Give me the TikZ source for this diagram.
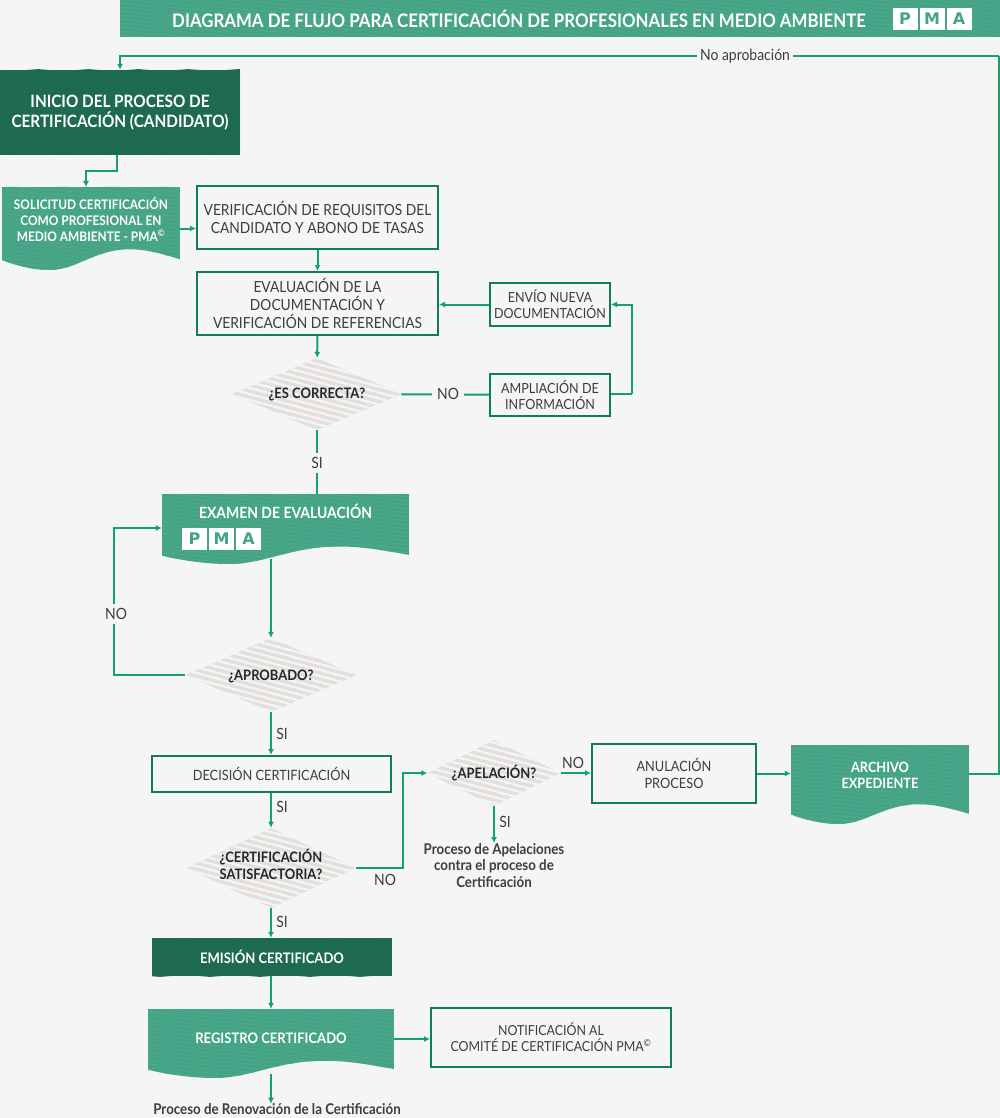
\documentclass[tikz,border=0pt]{standalone}
\usepackage{fontspec}
\setmainfont{Lato}[FakeStretch=0.9]
\newfontfamily\logofont{DejaVu Sans}
\usetikzlibrary{shapes.geometric, arrows.meta, positioning}
\definecolor{fondo}{HTML}{F5F5F5}
\definecolor{verdeclaro}{HTML}{45A386}
\definecolor{verderaya}{HTML}{50A98E}
\definecolor{verdeoscuro}{HTML}{1D6A50}
\definecolor{verderayaosc}{HTML}{216C53}
\definecolor{linea}{HTML}{12A26C}
\definecolor{borde}{HTML}{0F7C60}
\definecolor{texto}{HTML}{3D3D3D}
\definecolor{grisrombo}{HTML}{E3DFDC}
\newcommand{\rayado}[3]{\foreach \r in {-#3,-\numexpr#3-#2\relax,...,#3}
	\draw[#1,line width=.8pt,x=1pt,y=-1pt,shift={(path picture bounding box.center)}] (-500,\r-40) -- (500,\r+40);}
\newcommand{\documento}[7]{
	\begin{scope}
		\clip[shift={(#2,#3)},x=#4pt,y=-#5pt] (0,0) -- (1,0) -- (1,.87) .. controls (.92,.82) and (.82,.75) .. (.72,.75)
		.. controls (.52,.75) and (.42,1) .. (.27,1) .. controls (.18,1) and (.08,.95) .. (0,.88) -- cycle;
		\fill[verdeclaro] (#2,#3) rectangle ++(#4,#5);
		\foreach \r in {-20,-16,...,100}
			\draw[verderaya,line width=.8pt] (#2,#3+\r-5) -- ++(#4,#4*.08);
	\end{scope}
	\node[doctexto,minimum width=#4pt,minimum height=#5pt,#6] (#1) at ({#2+#4/2},{#3+#5/2}) {#7};
}
\tikzset{
	caja/.style={draw=borde,line width=2pt,fill=fondo,inner sep=0pt,align=center,text=texto},
	solida/.style={inner sep=0pt,align=center,text=white,font=\bfseries,fill=#1},
	oscura/.style={solida=verdeoscuro,path picture={\rayado{verderayaosc}{4}{100}}},
	clara/.style={solida=verdeclaro,path picture={\rayado{verderaya}{4}{100}}},
	doctexto/.style={inner sep=0pt,align=center,text=white},
	rombo/.style={shape=diamond,inner sep=0pt,align=center,text=black!85,font=\fontsize{14.4}{17}\selectfont\bfseries,fill=grisrombo,
		path picture={\foreach \r in {-60,-54,...,60}
			\draw[fondo,line width=2.2pt,x=1pt,y=-1pt,shift={(path picture bounding box.center)}] (-150,\r-40) -- (150,\r+40);}},
	etiqueta/.style={inner sep=1pt,text=texto,font=\fontsize{15.5}{16}\selectfont},
	nota/.style={inner sep=0pt,align=center,text=texto,font=\bfseries\fontsize{14.8}{16.5}\selectfont},
	flecha/.style={draw=linea,line width=2pt,-{Latex[length=6pt,width=6pt]}},
	tramo/.style={draw=linea,line width=2pt},
	pmacuadro/.style={fill=white,inner sep=0pt,minimum width=25pt,minimum height=22pt,text=verdeclaro,font=\logofont\bfseries\fontsize{16}{16}\selectfont}
}
\begin{document}
\begin{tikzpicture}[x=1pt,y=-1pt]
	\useasboundingbox (0,0) rectangle (1000,1118);
	\fill[fondo] (0,0) rectangle (1000,1118);
	% cabecera
	\node[clara,minimum width=880pt,minimum height=37pt] (cabecera) at (560,18.5) {};
	\node[inner sep=0pt,text=white,font=\bfseries\fontsize{18.7}{20}\selectfont] (titulo) at (519,19) {DIAGRAMA DE FLUJO PARA CERTIFICACIÓN DE PROFESIONALES EN MEDIO AMBIENTE};
	\foreach \letra/\px in {P/905,M/932,A/959}
		\node[pmacuadro] (cab\letra) at (\px,19) {\letra};
	% columna izquierda
	\node[oscura,minimum width=240pt,minimum height=85pt,font=\bfseries\fontsize{17}{20}\selectfont] (inicio) at (120,112.5) {INICIO DEL PROCESO DE\\CERTIFICACIÓN (CANDIDATO)};
	\documento{solicitud}{2}{187}{178}{83}{text depth=19pt,font=\bfseries\fontsize{13.2}{16}\selectfont}{SOLICITUD CERTIFICACIÓN\\COMO PROFESIONAL EN\\MEDIO AMBIENTE - PMA\textsuperscript{©}}
	\node[caja,minimum width=241pt,minimum height=63pt,font=\fontsize{15.3}{18}\selectfont] (verificacion) at (317.5,217.5) {VERIFICACIÓN DE REQUISITOS DEL\\CANDIDATO Y ABONO DE TASAS};
	\node[caja,minimum width=241pt,minimum height=63pt,font=\fontsize{15.3}{18}\selectfont] (evaluacion) at (317.5,303.5) {EVALUACIÓN DE LA\\DOCUMENTACIÓN Y\\VERIFICACIÓN DE REFERENCIAS};
	\node[caja,minimum width=120pt,minimum height=43pt,font=\fontsize{13.9}{16}\selectfont] (envio) at (550,304.5) {ENVÍO NUEVA\\DOCUMENTACIÓN};
	\node[caja,minimum width=120pt,minimum height=42pt,font=\fontsize{14}{16}\selectfont] (ampliacion) at (550,395) {AMPLIACIÓN DE\\INFORMACIÓN};
	\node[rombo,minimum width=170pt,minimum height=72pt,shape aspect=2.3] (correcta) at (317,394) {¿ES CORRECTA?};
	\documento{examen}{162}{494}{247}{70}{text depth=36pt,font=\bfseries\fontsize{15.5}{16}\selectfont}{EXAMEN DE EVALUACIÓN}
	\foreach \letra/\px in {P/194.5,M/221.5,A/248.5}
		\node[pmacuadro] (exa\letra) at (\px,538.5) {\letra};
	\node[rombo,minimum width=171pt,minimum height=74pt,shape aspect=2.3,text height=14pt] (aprobado) at (271,675) {¿APROBADO?};
	\node[caja,minimum width=239pt,minimum height=36pt,font=\fontsize{14.2}{16}\selectfont] (decision) at (271.5,774) {DECISIÓN CERTIFICACIÓN};
	\node[rombo,minimum width=169pt,minimum height=80pt,shape aspect=2.1,text depth=7pt,inner sep=-6pt] (satisfactoria) at (271,868) {¿CERTIFICACIÓN\\SATISFACTORIA?};
	\node[oscura,minimum width=240pt,minimum height=38pt,font=\bfseries\fontsize{14.5}{16}\selectfont] (emision) at (272,957) {EMISIÓN CERTIFICADO};
	\documento{registro}{148}{1009}{246}{69}{text depth=11pt,font=\bfseries\fontsize{14.5}{16}\selectfont}{REGISTRO CERTIFICADO}
	\node[caja,minimum width=240pt,minimum height=59pt,font=\fontsize{13.8}{16}\selectfont] (notificacion) at (551,1037.5) {NOTIFICACIÓN AL\\COMITÉ DE CERTIFICACIÓN PMA\textsuperscript{©}};
	\node[nota] (renovacion) at (277,1109.5) {Proceso de Renovación de la Certificación};
	% rama de apelacion
	\node[rombo,minimum width=133pt,minimum height=66pt,shape aspect=2.3] (apelacion) at (494,773) {¿APELACIÓN?};
	\node[nota,anchor=north] (apelaciones) at (494,843) {Proceso de Apelaciones\\contra el proceso de\\Certificación};
	\node[caja,minimum width=164pt,minimum height=59pt,font=\fontsize{14.2}{16.5}\selectfont] (anulacion) at (674,773.5) {ANULACIÓN\\PROCESO};
	\documento{archivo}{791}{745}{178}{79}{text depth=19pt,font=\bfseries\fontsize{14.2}{16}\selectfont}{ARCHIVO\\EXPEDIENTE}
	% conexiones
	\coordinate (vueltaarriba) at (999,56);
	\coordinate (vueltainicio) at (117,171);
	\coordinate (vueltano) at (114,675);
	\coordinate (vueltaape) at (403,868);
	\coordinate (vueltaenvio) at (632,394);
	\draw[flecha] ([xshift=-3pt]inicio.south) |- (vueltainicio) -- (vueltainicio -| 86,0) -- (86,187);
	\draw[flecha] (solicitud.east |- verificacion.center) ++(0,11) -- ([yshift=-11pt]verificacion.west);
	\draw[flecha] (verificacion) -- (evaluacion);
	\draw[flecha] (evaluacion) -- (correcta);
	\draw[tramo] (correcta) -- (ampliacion);
	\draw[tramo] (ampliacion.east |- vueltaenvio) -- (vueltaenvio);
	\draw[flecha] (vueltaenvio) |- (envio.east);
	\draw[flecha] (envio) -- (envio -| evaluacion.east);
	\draw[tramo] (correcta.south) -- (correcta.south |- examen.north);
	\draw[flecha] ([xshift=-14.5pt,yshift=5pt]examen.south) -- (aprobado.north);
	\draw[flecha] (aprobado.west) -- (vueltano) |- ([yshift=10.5pt]examen.west |- exaP);
	\draw[flecha] (aprobado.south) -- (aprobado.south |- decision.north);
	\draw[flecha] (decision.south -| aprobado) -- (satisfactoria.north);
	\draw[flecha] (satisfactoria.south) -- (satisfactoria.south |- emision.north);
	\draw[flecha] (emision.south -| satisfactoria) -- (satisfactoria |- registro.north);
	\draw[flecha] (registro.east |- notificacion.center) ++(0,1.5) -- ([yshift=-1.5pt]notificacion.west);
	\draw[flecha] ([yshift=4pt]registro.south) -- ([xshift=-6pt]renovacion.north);
	\draw[flecha] (satisfactoria.east) -- (vueltaape) |- (apelacion.west);
	\draw[flecha] (apelacion.east) -- (anulacion.west |- apelacion);
	\draw[flecha] (apelacion.south) -- (apelaciones.north);
	\draw[flecha] (anulacion) -- (archivo.west |- anulacion);
	\draw[tramo] (archivo.east |- anulacion) -| (vueltaarriba);
	\draw[flecha] (vueltaarriba) -| ([yshift=0pt]inicio.north);
	% etiquetas
	\node[etiqueta,fill=fondo,inner xsep=3pt] (noaprobacion) at (745,56) {No aprobación};
	\node[etiqueta,fill=fondo,inner xsep=5pt] (nocorrecta) at (448,394) {NO};
	\node[etiqueta,fill=fondo,inner ysep=4pt] (sicorrecta) at (317,463) {SI};
	\node[etiqueta,fill=fondo,inner ysep=4pt] (noexamen) at (116,614) {NO};
	\node[etiqueta] (siaprobado) at (282,734) {SI};
	\node[etiqueta] (sidecision) at (282,807) {SI};
	\node[etiqueta] (sisatisf) at (282,922) {SI};
	\node[etiqueta] (nosatisf) at (385,880) {NO};
	\node[etiqueta] (noape) at (573,763) {NO};
	\node[etiqueta] (siape) at (505,822) {SI};
\end{tikzpicture}
\end{document}
